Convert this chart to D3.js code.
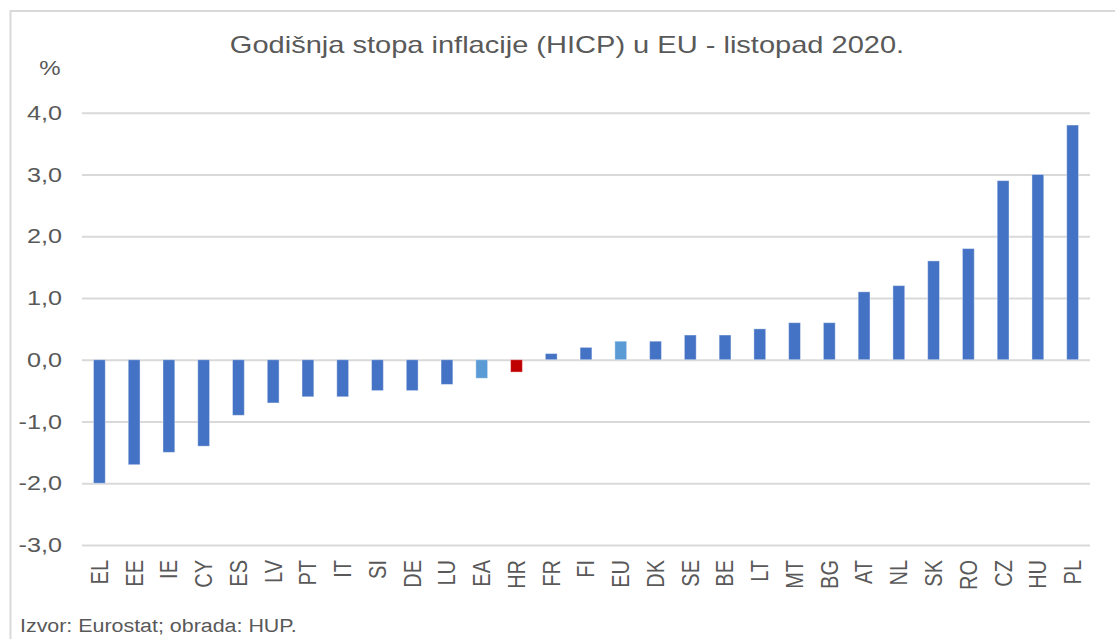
<!DOCTYPE html>
<html>
<head>
<meta charset="utf-8">
<script src="https://cdn.jsdelivr.net/npm/d3@7"></script>
<style>
    body { margin: 0; background: #ffffff; }
    text { font-family: "Liberation Sans", Arial, sans-serif; fill: #595959; }
</style>
</head>
<body>
<div id="charts"></div>
<script>
// Chart data.
let countries = ["EL", "EE", "IE", "CY", "ES", "LV", "PT", "IT", "SI", "DE", "LU", "EA", "HR", "FR", "FI",
                 "EU", "DK", "SE", "BE", "LT", "MT", "BG", "AT", "NL", "SK", "RO", "CZ", "HU", "PL"];
let inflation = [-2.0, -1.7, -1.5, -1.4, -0.9, -0.7, -0.6, -0.6, -0.5, -0.5, -0.4, -0.3, -0.2, 0.1, 0.2,
                 0.3, 0.3, 0.4, 0.4, 0.5, 0.6, 0.6, 1.1, 1.2, 1.6, 1.8, 2.9, 3.0, 3.8];
let y_ticks = [-3, -2, -1, 0, 1, 2, 3, 4];
let aggregates = ["EA", "EU"];
let highlight = ["HR"];

let title = "Godišnja stopa inflacije (HICP) u EU - listopad 2020.";
let source = "Izvor: Eurostat; obrada: HUP.";

let svg_width = 1115, svg_height = 639;
let margin = { top: 112.7, right: 25, bottom: 94, left: 82 },
    width = svg_width - margin.left - margin.right,
    height = svg_height - margin.top - margin.bottom;

// The source picture has its text a little wider than tall.
let stretch = 1.2;

// Set up the SVG.
let root = d3.select("#charts")
    .append("svg")
        .attr("width", svg_width)
        .attr("height", svg_height);

// Outer frame.
root.append("rect")
    .attr("x", 10.5)
    .attr("y", 11)
    .attr("width", svg_width + 10)
    .attr("height", svg_height + 10)
    .attr("fill", "none")
    .attr("stroke", "#d9d9d9")
    .attr("stroke-width", 2);

let svg = root.append("g")
    .attr("transform", "translate(" + margin.left + "," + margin.top + ")");

// Define scales.
let x_scale = d3.scaleBand()
    .domain(countries)
    .range([0, width])
    .paddingInner(0.66)
    .paddingOuter(0.33);
let y_scale = d3.scaleLinear()
    .domain([-3, 4])
    .range([height, 0]);

// Add the grid lines.
let y_axis_grid = d3.axisLeft(y_scale)
    .tickValues(y_ticks)
    .tickSize(-width)
    .tickFormat('');
svg.append("g")
    .attr("class", "y axis-grid")
    .call(y_axis_grid)
    .call(g => g.select(".domain").remove())
    .call(g => g.selectAll("line").attr("stroke", "#d9d9d9").attr("stroke-width", 2));

// Add the Y axis labels.
let fmt = d3.format(".1f");
svg.append("g")
    .attr("class", "y_axis")
    .call(d3.axisLeft(y_scale).tickValues(y_ticks).tickSize(0).tickPadding(20)
        .tickFormat(d => fmt(d).replace(".", ",").replace("\u2212", "-")))
    .call(g => g.select(".domain").remove())
    .call(g => g.selectAll("text")
        .style("font-family", "Liberation Sans, Arial, sans-serif")
        .style("font-size", "21px")
        .attr("fill", "#595959")
        .attr("x", -20 / stretch)
        .attr("transform", "scale(" + stretch + ",1)"));

// Bars
svg.selectAll(".bar")
    .data(countries)
    .enter()
    .append("rect")
        .attr("class", "bar")
        .attr("x", d => x_scale(d))
        .attr("y", (d, i) => y_scale(Math.max(0, inflation[i])))
        .attr("width", x_scale.bandwidth())
        .attr("height", (d, i) => Math.abs(y_scale(inflation[i]) - y_scale(0)))
        .attr("fill", d => highlight.includes(d) ? "#c00000" : aggregates.includes(d) ? "#5b9bd5" : "#4472c4")
        .attr("stroke", "#ffffff")
        .attr("stroke-opacity", 0.4)
        .attr("stroke-width", 1);

// Add the X axis labels.
svg.append("g")
    .attr("class", "x_axis")
    .attr("transform", "translate(0," + height + ")")
    .call(d3.axisBottom(x_scale).tickSize(0).tickPadding(0))
    .call(g => g.select(".domain").remove())
    .selectAll("text")
        .style("font-family", "Liberation Sans, Arial, sans-serif")
        .style("font-size", "20px")
        .attr("fill", "#595959")
        .attr("transform", "scale(" + stretch + ",1) rotate(-90)")
        .attr("x", -15)
        .attr("y", 0)
        .attr("dy", "0.35em")
        .style("text-anchor", "end");

// Add the title.
root.append("text")
    .attr("transform", "translate(567,53) scale(" + 1.21 + ",1)")
    .style("text-anchor", "middle")
    .style("font-size", "24px")
    .text(title);

// Add the Y axis unit.
root.append("text")
    .attr("transform", "translate(50,75) scale(" + stretch + ",1)")
    .style("text-anchor", "middle")
    .style("font-size", "20px")
    .text("%");

// Add the source note.
root.append("text")
    .attr("transform", "translate(20,632) scale(" + 1.19 + ",1)")
    .style("font-size", "18px")
    .text(source);
</script>
</body>
</html>
